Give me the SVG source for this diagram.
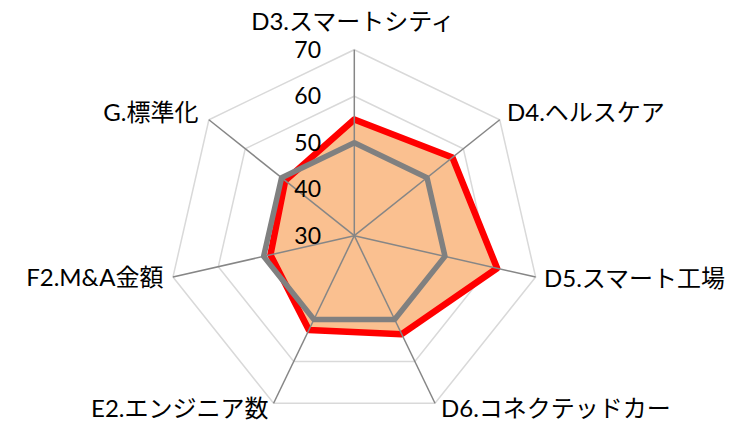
<svg xmlns="http://www.w3.org/2000/svg" width="746" height="421" viewBox="0 0 746 421">
<style>
.ring{fill:none;stroke:#D9D9D9;stroke-width:1.5}
.spoke{stroke:#868686;stroke-width:1.5}
.lbl{font-family:"Lato","Noto Sans CJK JP",sans-serif;font-size:24px;fill:#000}
.num{font-family:"Lato","Noto Sans CJK JP",sans-serif;font-size:23px;fill:#000;text-anchor:end}
</style>
<rect width="746" height="421" fill="#fff"/>
<g id="grid">
<polygon class="ring" points="354.3,49.7 499.72,119.73 535.64,277.09 435,403.28 273.6,403.28 172.96,277.09 208.88,119.73"/>
<polygon class="ring" points="354.3,96.2 463.37,148.72 490.3,266.74 414.83,361.39 293.77,361.39 218.3,266.74 245.23,148.72"/>
<polygon class="ring" points="354.3,142.7 427.01,177.72 444.97,256.39 394.65,319.49 313.95,319.49 263.63,256.39 281.59,177.72"/>
<polygon class="ring" points="354.3,189.2 390.66,206.71 399.63,246.05 374.48,277.6 334.12,277.6 308.97,246.05 317.94,206.71"/>
</g>
<g id="series-red">
<polygon points="354.3,119.45 452.46,157.42 497.1,268.29 401.71,334.15 308.91,329.96 270.43,254.84 285.23,180.61" fill="#FAC090" stroke="#FF0000" stroke-width="6.5" stroke-linejoin="round"/>
</g>
<g id="connectors">
<line class="spoke" x1="354.3" y1="235.7" x2="354.3" y2="49.7"/>
<line class="spoke" x1="354.3" y1="235.7" x2="499.72" y2="119.73"/>
<line class="spoke" x1="354.3" y1="235.7" x2="535.64" y2="277.09"/>
<line class="spoke" x1="354.3" y1="235.7" x2="435" y2="403.28"/>
<line class="spoke" x1="354.3" y1="235.7" x2="273.6" y2="403.28"/>
<line class="spoke" x1="354.3" y1="235.7" x2="172.96" y2="277.09"/>
<line class="spoke" x1="354.3" y1="235.7" x2="208.88" y2="119.73"/>
</g>
<g id="series-gray">
<polygon points="354.3,142.7 427.01,177.72 444.97,256.39 394.65,319.49 313.95,319.49 263.63,256.39 281.59,177.72" fill="none" stroke="#808080" stroke-width="5.5" stroke-linejoin="round"/>
</g>
<g id="axis-values">
<text class="num" x="321" y="57.8">70</text>
<text class="num" x="321" y="104.3">60</text>
<text class="num" x="321" y="150.8">50</text>
<text class="num" x="321" y="197.3">40</text>
<text class="num" x="321" y="243.8">30</text>
</g>
<g id="node-d3"><text class="lbl" x="353" y="29.5" text-anchor="middle">D3.スマートシティ</text></g>
<g id="node-d4"><text class="lbl" x="507" y="120.5">D4.ヘルスケア</text></g>
<g id="node-d5"><text class="lbl" x="544" y="286.5">D5.スマート工場</text></g>
<g id="node-d6"><text class="lbl" x="441" y="416.5">D6.コネクテッドカー</text></g>
<g id="node-e2"><text class="lbl" x="268.5" y="416.5" text-anchor="end">E2.エンジニア数</text></g>
<g id="node-f2"><text class="lbl" x="163.5" y="285.5" text-anchor="end">F2.M&amp;A金額</text></g>
<g id="node-g"><text class="lbl" x="198.5" y="120.5" text-anchor="end">G.標準化</text></g>
</svg>
